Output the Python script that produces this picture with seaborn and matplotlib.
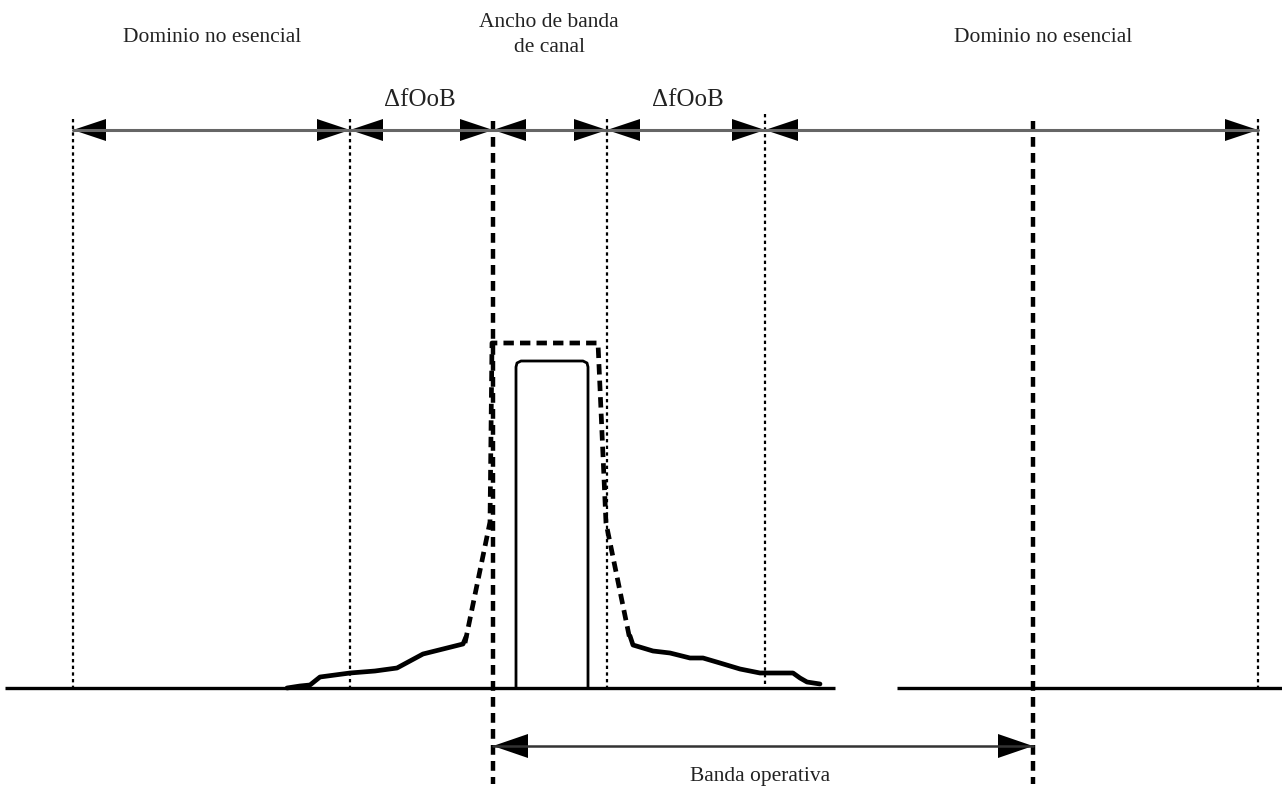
import numpy as np
import pandas as pd
import seaborn as sns
import matplotlib.pyplot as plt

# reference drawn in pixel coordinates (x right, y down)
W, H = 1282, 789

# vertical markers
dotted_x = [73, 350, 607, 765, 1258]
dashed_x = [493, 1033]

# top dimension line: segment boundaries
top_bounds = [73, 350, 493, 607, 765, 1258]
top_y = 130
# bottom dimension line (operating band)
bottom_bounds = [493, 1033]
bottom_y = 746

# baseline pieces
base_y = 688
base_segments = [(5, 835), (897, 1282)]

# measured emission tails (solid)
left_tail_x = [287, 300, 310, 320, 335, 350, 375, 397, 410, 423, 443, 463, 466]
left_tail_y = [688, 686, 685, 677, 675, 673, 671, 668, 661, 654, 649, 644, 637]
right_tail_x = [630, 633, 653, 670, 690, 703, 720, 740, 760, 793, 800, 807, 820]
right_tail_y = [636, 645, 651, 653, 658, 658, 663, 669, 673, 673, 678, 682, 684]

# dashed envelope
env_x = [465, 490, 492, 598, 606, 630]
env_y = [643, 522, 343, 343, 523, 640]

# channel rectangle (solid, rounded top)
rect_x = [516, 516, 517, 521, 583, 587, 588, 588]
rect_y = [688, 367, 363, 361, 361, 363, 367, 688]

labels = {
    "Dominio no esencial": (212, 37),
    "Ancho de banda\nde canal": (549, 35),
    "Dominio no esencial ": (1043, 37),
    "Banda operativa": (760, 776),
}
delta_label = "\u0394fOoB"
delta_pos = [(420, 100), (688, 100)]

sns.set_style("white")
plt.rcParams["font.family"] = ["Liberation Serif", "DejaVu Serif"]

fig = plt.figure(figsize=(W / 100, H / 100), dpi=100)
ax = fig.add_axes([0, 0, 1, 1])

# vertical lines
for x in dotted_x:
    top = 114 if x == 765 else 119
    ax.plot([x, x], [top, 690], color="black", lw=1.6, ls=(0, (1.5, 1.5)))
for x in dashed_x:
    ax.plot([x, x], [121, 784], color="black", lw=3.2, ls=(0, (2.2, 1.4)))

# baseline
for a, b in base_segments:
    ax.plot([a, b], [base_y, base_y], color="black", lw=2.4, solid_capstyle="butt")


def arrowheads(ax, bounds, y, L=33, h=11):
    # filled triangles pointing outwards at both ends of each segment
    for a, b in zip(bounds[:-1], bounds[1:]):
        ax.fill([a, a + L, a + L], [y, y - h, y + h], color="black", lw=0)
        ax.fill([b, b - L, b - L], [y, y - h, y + h], color="black", lw=0)


ax.plot([top_bounds[0], top_bounds[-1]], [top_y, top_y], color="#666666", lw=2.2)
arrowheads(ax, top_bounds, top_y)
ax.plot(bottom_bounds, [bottom_y, bottom_y], color="#333333", lw=1.8)
arrowheads(ax, bottom_bounds, bottom_y, L=35, h=12)

# spectrum
tails = pd.DataFrame({
    "x": left_tail_x + right_tail_x,
    "y": left_tail_y + right_tail_y,
    "side": ["l"] * len(left_tail_x) + ["r"] * len(right_tail_x),
})
sns.lineplot(data=tails, x="x", y="y", units="side", estimator=None, sort=False,
             color="black", lw=3.4, ax=ax)
ax.plot(env_x, env_y, color="black", lw=3.4, ls=(0, (2.2, 1.3)))
ax.plot(rect_x, rect_y, color="black", lw=2.0)
ax.set_xlim(0, W)
ax.set_ylim(H, 0)
ax.axis("off")

# text
for txt, (x, y) in labels.items():
    ax.text(x, y, txt.strip(), ha="center", va="center", fontsize=15.5,
            color="#222222", linespacing=1.45)
for x, y in delta_pos:
    ax.text(x, y, delta_label, ha="center", va="center", fontsize=18, color="#222222")

fig.savefig("out.png", dpi=100, facecolor="white")
